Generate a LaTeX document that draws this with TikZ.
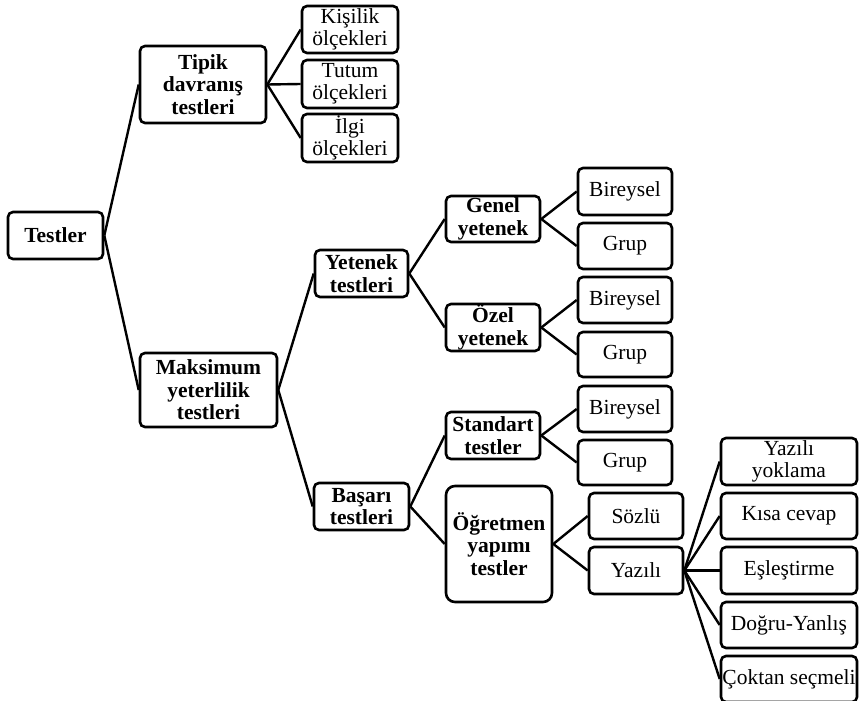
\documentclass[tikz,border=0pt]{standalone}
\usepackage{fontspec}
\setmainfont{Liberation Serif}
\begin{document}
\begin{tikzpicture}[x=1pt,y=-1pt,
  box/.style={draw, line width=2.6pt, rounded corners=5pt, inner sep=0pt, align=center,
    font=\fontsize{21.5}{22}\selectfont},
  bbox/.style={box, font=\fontsize{21.5}{22.5}\selectfont\bfseries},
  link/.style={line width=2.4pt}]
\useasboundingbox (0,0) rectangle (859,701);
% level 0
\node[bbox, minimum width=95, minimum height=47] (testler) at (55.5,235.5) {Testler};
% level 1
\node[bbox, minimum width=126, minimum height=77] (tipik) at (203,84.5) {Tipik\\davranış\\testleri};
\node[bbox, minimum width=137, minimum height=74] (maks) at (208.5,390) {Maksimum\\yeterlilik\\testleri};
% tipik children
\node[box, minimum width=96, minimum height=47] (kis) at (350,29.5) {Kişilik\\ölçekleri};
\node[box, minimum width=96, minimum height=48] (tut) at (350,84) {Tutum\\ölçekleri};
\node[box, minimum width=96, minimum height=48] (ilg) at (350,138) {İlgi\\ölçekleri};
% level 2
\node[bbox, minimum width=93, minimum height=47] (yet) at (361.5,273.5) {Yetenek\\testleri};
\node[bbox, minimum width=95, minimum height=47] (bas) at (361.5,506.5) {Başarı\\testleri};
% level 3
\node[bbox, minimum width=94, minimum height=46] (gen) at (493,219) {Genel\\yetenek};
\node[bbox, minimum width=94, minimum height=47] (oze) at (493,327.5) {Özel\\yetenek};
\node[bbox, minimum width=94, minimum height=47] (sta) at (493,435.5) {Standart\\testler};
\node[bbox, minimum width=106, minimum height=116, rounded corners=9pt] (ogr) at (499,544) {Öğretmen\\yapımı\\testler};
% level 4
\node[box, minimum width=94, minimum height=47] (b1) at (625,191.5) {Bireysel};
\node[box, minimum width=94, minimum height=46] (g1) at (625,246) {Grup};
\node[box, minimum width=94, minimum height=46] (b2) at (625,300) {Bireysel};
\node[box, minimum width=94, minimum height=45] (g2) at (625,354.5) {Grup};
\node[box, minimum width=94, minimum height=46] (b3) at (625,409) {Bireysel};
\node[box, minimum width=94, minimum height=45] (g3) at (625,462.5) {Grup};
\node[box, minimum width=94, minimum height=46] (soz) at (636,516) {Sözlü};
\node[box, minimum width=94, minimum height=47] (yaz) at (636,570.5) {Yazılı};
% level 5
\node[box, minimum width=136, minimum height=47] (yy) at (789,461.5) {Yazılı\\yoklama};
\node[box, minimum width=136, minimum height=46] (kc) at (789,516) {Kısa cevap};
\node[box, minimum width=136, minimum height=47] (es) at (789,570.5) {Eşleştirme};
\node[box, minimum width=136, minimum height=46] (dy) at (789,625) {Doğru-Yanlış};
\node[box, minimum width=136, minimum height=46] (cs) at (789,679) {Çoktan seçmeli};
% connectors
\draw[link] (testler.east) -- (tipik.west);
\draw[link] (testler.east) -- (maks.west);
\draw[link] (tipik.east) -- (kis.west);
\draw[link] (tipik.east) -- (tut.west);
\draw[link] (tipik.east) -- (ilg.west);
\draw[link] (maks.east) -- (yet.west);
\draw[link] (maks.east) -- (bas.west);
\draw[link] (yet.east) -- (gen.west);
\draw[link] (yet.east) -- (oze.west);
\draw[link] (bas.east) -- (sta.west);
\draw[link] (bas.east) -- (ogr.west);
\draw[link] (gen.east) -- (b1.west);
\draw[link] (gen.east) -- (g1.west);
\draw[link] (oze.east) -- (b2.west);
\draw[link] (oze.east) -- (g2.west);
\draw[link] (sta.east) -- (b3.west);
\draw[link] (sta.east) -- (g3.west);
\draw[link] (ogr.east) -- (soz.west);
\draw[link] (ogr.east) -- (yaz.west);
\draw[link] (yaz.east) -- (yy.west);
\draw[link] (yaz.east) -- (kc.west);
\draw[link] (yaz.east) -- (es.west);
\draw[link] (yaz.east) -- (dy.west);
\draw[link] (yaz.east) -- (cs.west);
\end{tikzpicture}
\end{document}
